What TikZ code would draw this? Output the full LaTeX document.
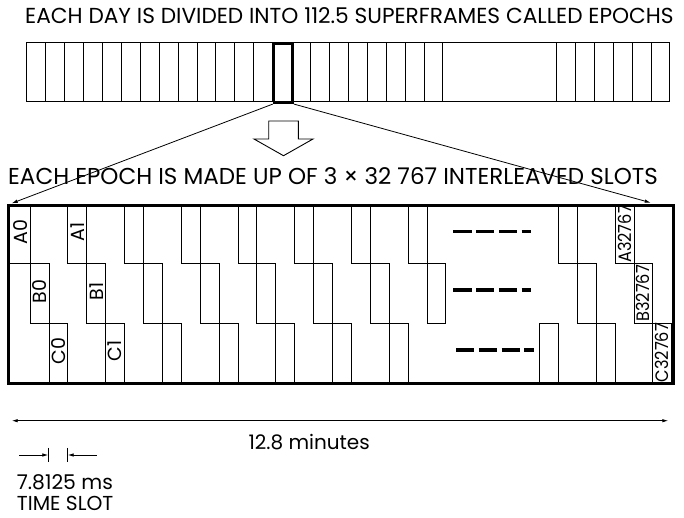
\documentclass[tikz,border=0pt]{standalone}
\usepackage{fontspec}
\setmainfont{Poppins}
\newfontfamily\narrowfont{Poppins}[FakeStretch=0.9]
\usetikzlibrary{arrows.meta}

\newcommand{\slotw}{18.9}   % width of one time slot
\newcommand{\rowh}{59.33}   % height of one slot row
\newcommand{\cellw}{18.92}  % width of one epoch cell

\begin{document}
\begin{tikzpicture}[x=1pt, y=-1pt,
    font=\fontsize{21.7}{24}\selectfont,
    cell/.style={draw, line width=0.9pt},
    epochcell/.style={draw, line width=2.4pt, minimum width=18.9pt, minimum height=59pt, inner sep=0pt, anchor=north west},
    framebox/.style={draw, line width=2.8pt, minimum width=664.4pt, minimum height=178pt, inner sep=0pt, anchor=north west},
    slotline/.style={line width=0.8pt},
    slotlbl/.style={rotate=90, inner sep=0pt, font=\fontsize{19}{19}\selectfont},
    zoomline/.style={-{Latex[length=6pt,width=3.5pt]}, line width=0.8pt},
    dimline/.style={{Latex[length=6pt,width=3.5pt]}-{Latex[length=6pt,width=3.5pt]}, line width=0.9pt},
    tickline/.style={line width=0.8pt},
    dashrow/.style={line width=3.3pt, dash pattern=on 18.3pt off 4.5pt},
    blockarrow/.style={draw, line width=0.9pt, line join=miter},
    caption/.style={anchor=base west, inner sep=0pt},
  ]
  \useasboundingbox (0,0) rectangle (684,517);

  % the day, cut into epochs
  \node[caption] (daytitle) at (25,23.3) {EACH DAY IS DIVIDED INTO 112.5 SUPERFRAMES CALLED EPOCHS};
  \draw[cell] (26.7,42.7) rectangle (669.5,101.7);
  \foreach \k in {1,...,22}
    \draw[cell] ({26.7+\k*\cellw},42.7) -- ({26.7+\k*\cellw},101.7);
  \foreach \k in {28,...,33}
    \draw[cell] ({26.7+\k*\cellw},42.7) -- ({26.7+\k*\cellw},101.7);
  \node[epochcell] (epoch) at (272.7,42.7) {};

  % hollow arrow
  \draw[blockarrow] (268.7,121) -- (298.3,121) -- (298.3,139) -- (313,139) -- (283.5,155.7) -- (254,139) -- (268.7,139) -- cycle;

  % one epoch, cut into slots
  \node[caption, font=\fontsize{23}{25}\selectfont] (epochtitle) at (8,184.3) {EACH EPOCH IS MADE UP OF 3 × 32 767 INTERLEAVED SLOTS};

  \foreach \k in {0,...,22} {
    \pgfmathsetmacro\xl{ifthenelse(\k==0,7.3,11.1+\k*\slotw)}
    \pgfmathsetmacro\xr{11.1+\k*\slotw+\slotw}
    \pgfmathsetmacro\yt{204.3+mod(\k,3)*\rowh}
    \draw[slotline] (\xl,\yt) rectangle (\xr,{\yt+\rowh});
  }
  \foreach \k/\txt in {0/A0,1/B0,2/C0,3/A1,4/B1,5/C1} {
    \pgfmathsetmacro\yt{204.3+mod(\k,3)*\rowh}
    \node[slotlbl] (lbl\txt) at ({11.1+\k*\slotw+0.5*\slotw},{\yt+0.47*\rowh}) {\txt};
  }

  \foreach \m/\r in {7/2,6/0,5/1,4/2,3/0,2/1,1/2}
    \draw[slotline] ({671.7-\m*\slotw},{204.3+\r*\rowh}) rectangle ({671.7-\m*\slotw+\slotw},{204.3+\r*\rowh+\rowh});
  \foreach \m/\r/\txt in {3/0/A32767,2/1/B32767,1/2/C32767}
    \node[slotlbl, font=\narrowfont\fontsize{18}{18}\selectfont] (lbl\txt) at ({671.7-\m*\slotw+0.5*\slotw},{204.3+\r*\rowh+0.5*\rowh}) {\txt};

  \foreach \y/\xs in {231.7/453.3,290/453.3,350/456}
    \draw[dashrow] (\xs,\y) -- ({\xs+77.7},\y);

  \node[framebox] (epochbox) at (7.3,204.3) {};

  % zoom lines
  \coordinate (lefttip) at (11.7,203.3);
  \coordinate (righttip) at (650.7,202.7);
  \draw[zoomline] (epoch.south west) -- (lefttip);
  \draw[zoomline] (epoch.south east) -- (righttip);

  % epoch length
  \coordinate (spanL) at (11.7,420.7);
  \coordinate (spanR) at (668.3,420.7);
  \draw[dimline] (spanL) -- (spanR);
  \node[caption, font=\fontsize{20}{22}\selectfont] (minutes) at (248.3,449) {12.8 minutes};

  % slot length
  \coordinate (tickL) at (48.3,455);
  \coordinate (tickR) at (67.7,455);
  \draw[tickline] ([yshift=7.2pt]tickL) -- ([yshift=-7.2pt]tickL);
  \draw[tickline] ([yshift=7.2pt]tickR) -- ([yshift=-7.2pt]tickR);
  \draw[zoomline] ([xshift=-29.3pt]tickL) -- (tickL);
  \draw[zoomline] ([xshift=29pt]tickR) -- (tickR);
  \node[caption, font=\fontsize{20.3}{22}\selectfont] (slotms) at (16.7,489) {7.8125 ms};
  \node[caption, font=\fontsize{20.2}{22}\selectfont] (slotname) at (16.7,510.7) {TIME SLOT};
\end{tikzpicture}
\end{document}
